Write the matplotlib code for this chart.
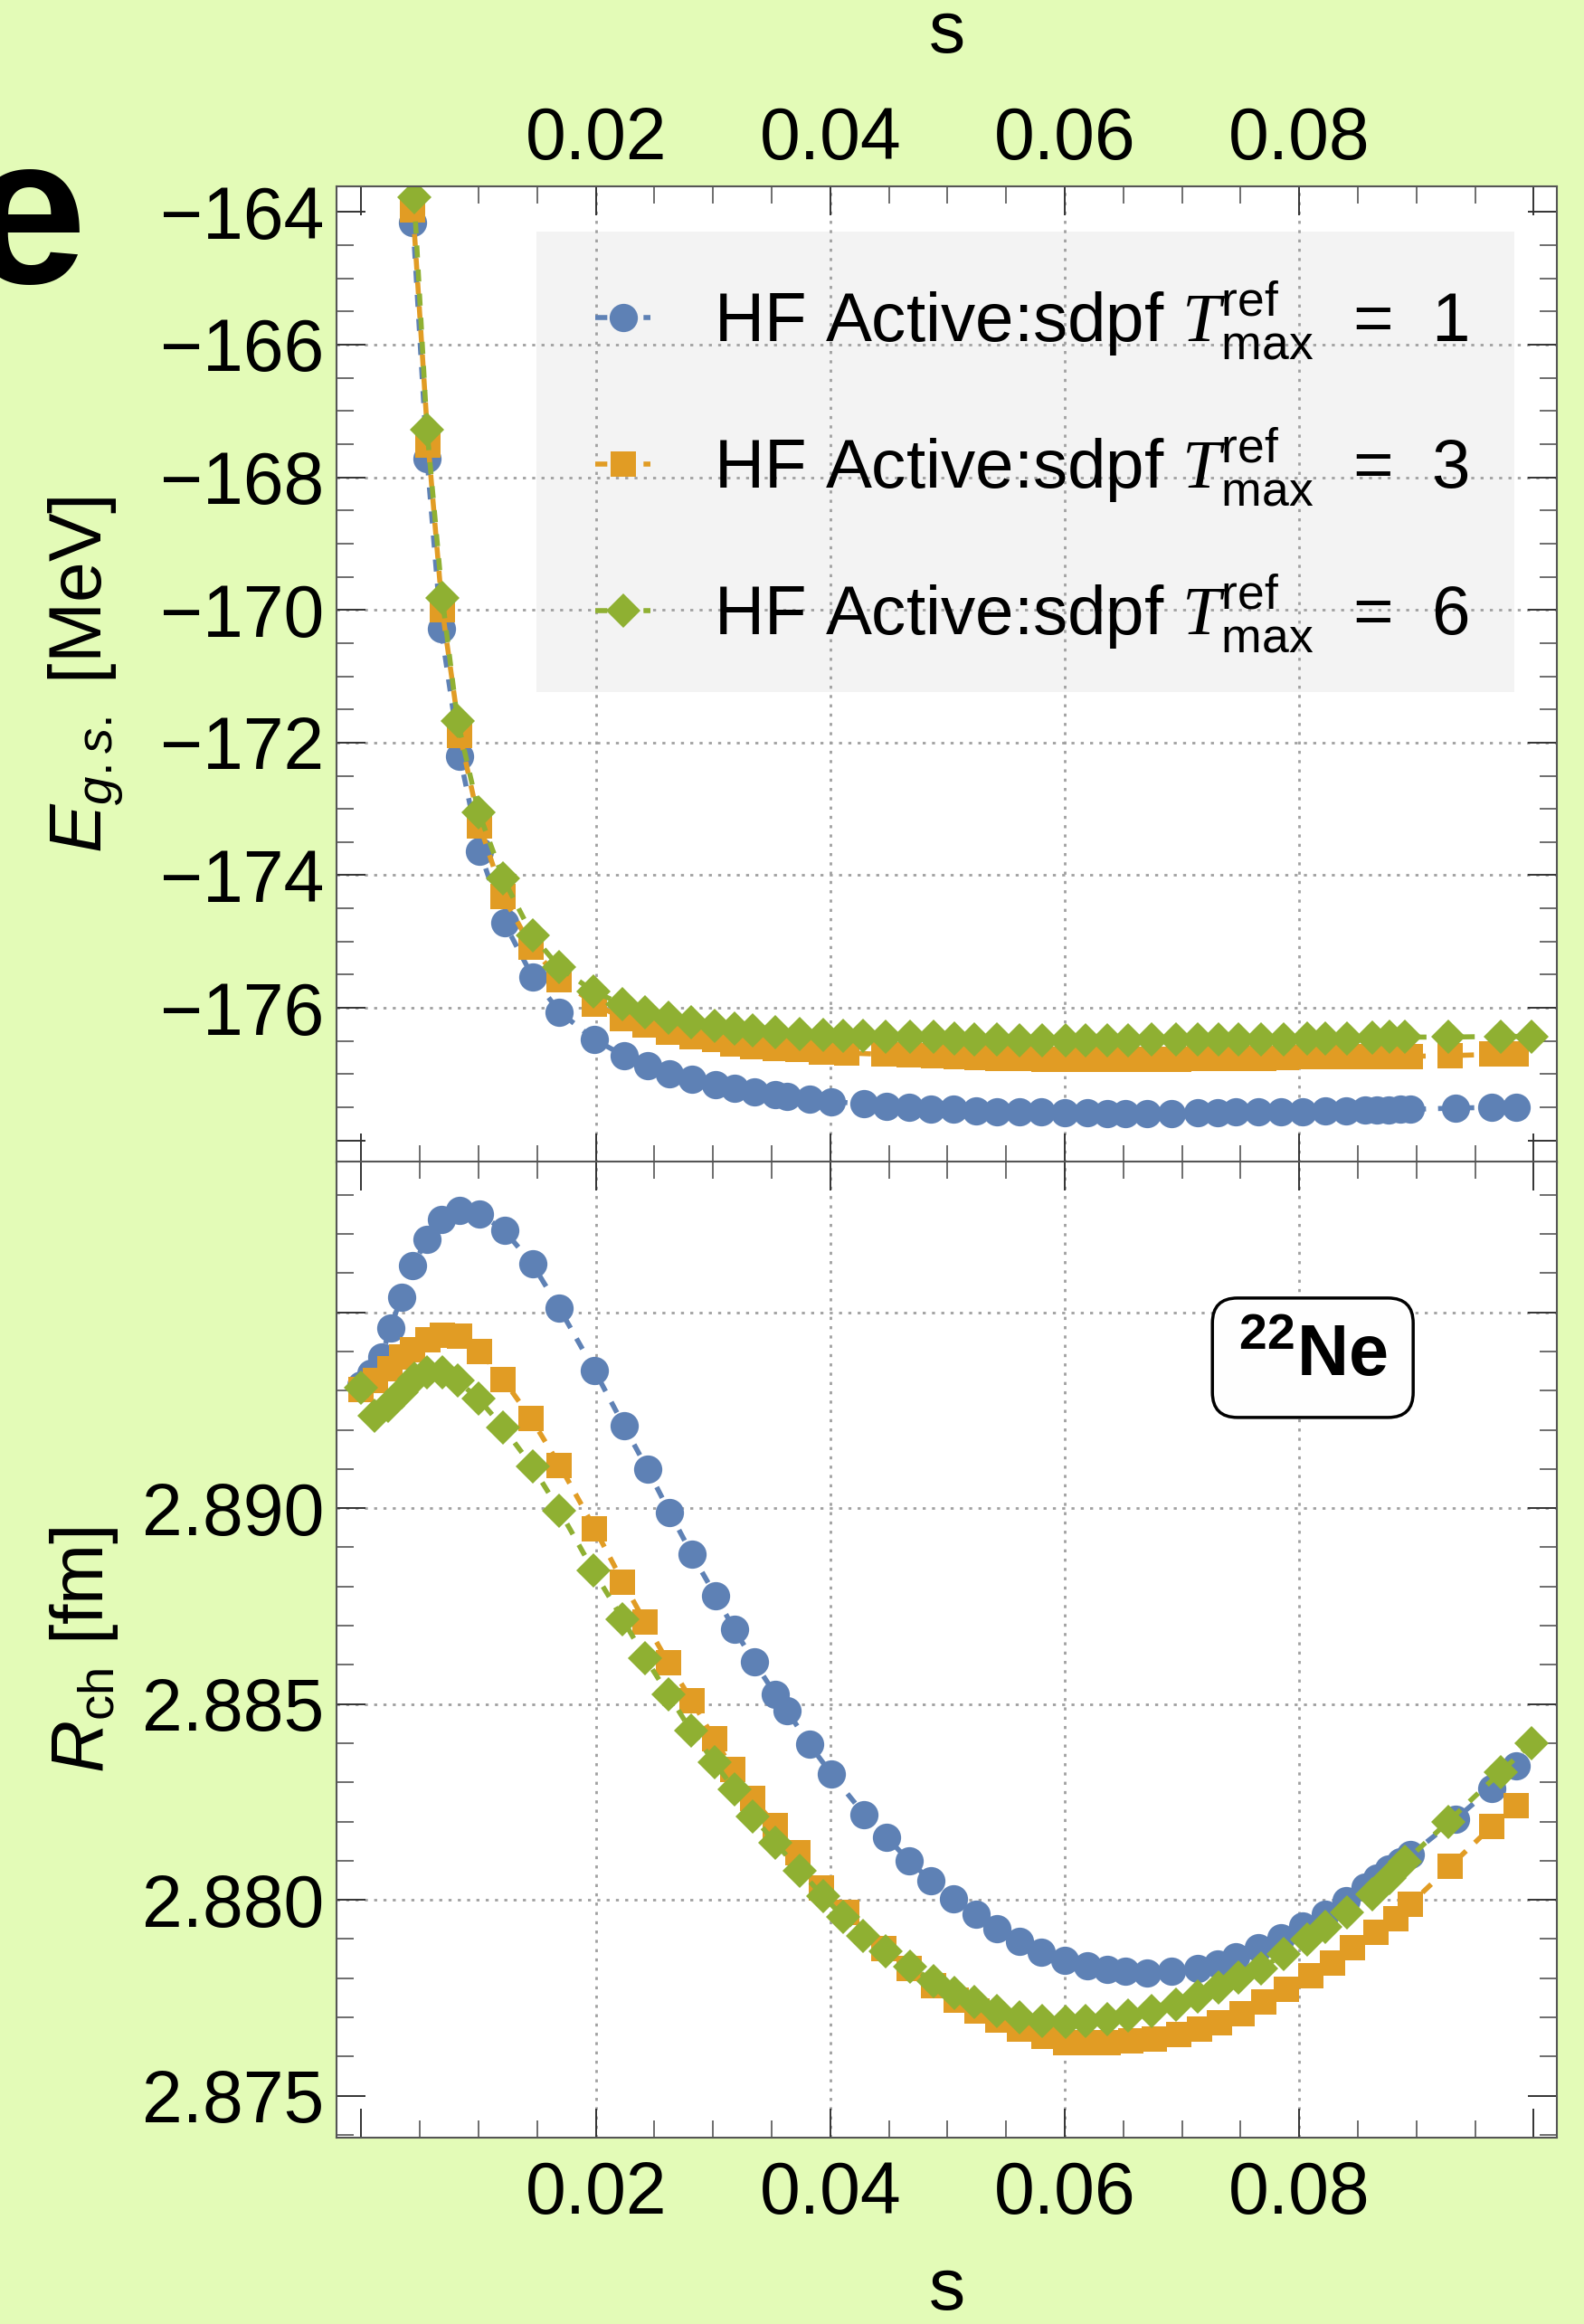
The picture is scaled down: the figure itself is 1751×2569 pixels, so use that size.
import numpy as np
import matplotlib
matplotlib.use("Agg")
import matplotlib.pyplot as plt
from matplotlib.patches import Rectangle
from matplotlib.ticker import FixedLocator, MultipleLocator, FuncFormatter

nan = np.nan

# ---------------- data ----------------
s_T1 = [0.0, 0.0008, 0.0017, 0.0025, 0.0034, 0.0044, 0.0056, 0.0068, 0.0084, 0.0101,
        0.0122, 0.0146, 0.0169, 0.0199, 0.0224, 0.0244, 0.0263, 0.0282, 0.0302, 0.0318,
        0.0335, 0.0353, 0.0363, 0.0382, 0.0401, 0.0429, 0.0448, 0.0467, 0.0486, 0.0505,
        0.0524, 0.0542, 0.0561, 0.0580, 0.0600, 0.0619, 0.0636, 0.0652, 0.0670, 0.0691,
        0.0713, 0.0730, 0.0746, 0.0765, 0.0784, 0.0803, 0.0822, 0.0840, 0.0856, 0.0866,
        0.0876, 0.0886, 0.0895, 0.0933, 0.0964, 0.0985]
E_T1 = [nan, nan, nan, nan, nan, -164.16, -167.72, -170.29, -172.21, -173.64,
        -174.72, -175.53, -176.06, -176.48, -176.72, -176.87, -176.99, -177.08, -177.16, -177.21,
        -177.26, -177.31, -177.34, -177.37, -177.41, -177.45, -177.48, -177.50, -177.52, -177.53,
        -177.55, -177.56, -177.57, -177.57, -177.58, -177.58, -177.59, -177.59, -177.59, -177.59,
        -177.58, -177.58, -177.57, -177.57, -177.56, -177.56, -177.55, -177.55, -177.54, -177.54,
        -177.54, -177.53, -177.53, -177.51, -177.50, -177.50]
R_T1 = [2.89315, 2.89345, 2.89387, 2.89461, 2.89539, 2.89619, 2.89687, 2.89737, 2.89760, 2.89751,
        2.89709, 2.89623, 2.89510, 2.89351, 2.89210, 2.89100, 2.88989, 2.88882, 2.88777, 2.88691,
        2.88608, 2.88525, 2.88483, 2.88398, 2.88321, 2.88218, 2.88160, 2.88100, 2.88049, 2.88003,
        2.87964, 2.87926, 2.87894, 2.87867, 2.87846, 2.87831, 2.87823, 2.87817, 2.87813, 2.87817,
        2.87825, 2.87837, 2.87855, 2.87877, 2.87904, 2.87934, 2.87964, 2.87998, 2.88033, 2.88055,
        2.88079, 2.88097, 2.88115, 2.88206, 2.88285, 2.88342]

s_T3 = [0.0, 0.0012, 0.0024, 0.0034, 0.0044, 0.0057, 0.0069, 0.0084, 0.0101, 0.0121,
        0.0145, 0.0169, 0.0199, 0.0223, 0.0242, 0.0262, 0.0282, 0.0301, 0.0317, 0.0334,
        0.0353, 0.0372, 0.0392, 0.0414, 0.0446, 0.0467, 0.0488, 0.0507, 0.0525, 0.0543,
        0.0561, 0.0582, 0.0601, 0.0619, 0.0637, 0.0656, 0.0676, 0.0697, 0.0715, 0.0732,
        0.0751, 0.0770, 0.0789, 0.0810, 0.0828, 0.0845, 0.0865, 0.0882, 0.0895, 0.0929,
        0.0964, 0.0985]
E_T3 = [nan, nan, nan, nan, -163.97, -167.51, -170.00, -171.89, -173.25, -174.32,
        -175.08, -175.57, -175.94, -176.16, -176.26, -176.36, -176.43, -176.48, -176.54, -176.58,
        -176.61, -176.63, -176.66, -176.68, -176.70, -176.71, -176.72, -176.74, -176.75, -176.76,
        -176.76, -176.77, -176.77, -176.77, -176.77, -176.77, -176.77, -176.77, -176.76, -176.76,
        -176.76, -176.76, -176.75, -176.74, -176.74, -176.73, -176.73, -176.73, -176.73, -176.72,
        -176.70, -176.70]
R_T3 = [2.89302, 2.89325, 2.89355, 2.89385, 2.89405, 2.89430, 2.89442, 2.89440, 2.89400, 2.89329,
        2.89228, 2.89110, 2.88948, 2.88812, 2.88709, 2.88605, 2.88508, 2.88411, 2.88333, 2.88259,
        2.88190, 2.88120, 2.88030, 2.87967, 2.87875, 2.87826, 2.87780, 2.87744, 2.87716, 2.87693,
        2.87670, 2.87652, 2.87636, 2.87635, 2.87635, 2.87641, 2.87645, 2.87657, 2.87669, 2.87687,
        2.87709, 2.87739, 2.87772, 2.87806, 2.87839, 2.87877, 2.87917, 2.87953, 2.87990, 2.88087,
        2.88187, 2.88241]

s_T6 = [0.0, 0.0011, 0.0023, 0.0034, 0.0045, 0.0056, 0.0069, 0.0082, 0.0100, 0.0121,
        0.0146, 0.0169, 0.0198, 0.0223, 0.0242, 0.0262, 0.0281, 0.0301, 0.0318, 0.0334,
        0.0353, 0.0374, 0.0394, 0.0411, 0.0428, 0.0447, 0.0468, 0.0488, 0.0506, 0.0523,
        0.0542, 0.0561, 0.0581, 0.0601, 0.0618, 0.0636, 0.0654, 0.0674, 0.0695, 0.0713,
        0.0731, 0.0748, 0.0767, 0.0787, 0.0807, 0.0822, 0.0841, 0.0862, 0.0877, 0.0890,
        0.0927, 0.0972, 0.0998]
E_T6 = [nan, nan, nan, nan, -163.78, -167.29, -169.82, -171.67, -173.05, -174.05,
        -174.91, -175.39, -175.75, -175.95, -176.07, -176.15, -176.21, -176.27, -176.31, -176.34,
        -176.37, -176.40, -176.41, -176.42, -176.42, -176.43, -176.43, -176.44, -176.46, -176.47,
        -176.48, -176.49, -176.49, -176.49, -176.49, -176.49, -176.49, -176.48, -176.48, -176.48,
        -176.48, -176.47, -176.47, -176.47, -176.46, -176.46, -176.46, -176.45, -176.44, -176.44,
        -176.44, -176.43, -176.43]
R_T6 = [2.89308, 2.89237, 2.89262, 2.89295, 2.89330, 2.89348, 2.89348, 2.89325, 2.89279, 2.89206,
        2.89106, 2.88994, 2.88840, 2.88716, 2.88618, 2.88524, 2.88433, 2.88352, 2.88282, 2.88213,
        2.88146, 2.88075, 2.88009, 2.87957, 2.87908, 2.87869, 2.87830, 2.87792, 2.87762, 2.87739,
        2.87716, 2.87700, 2.87692, 2.87688, 2.87690, 2.87696, 2.87704, 2.87716, 2.87732, 2.87753,
        2.87777, 2.87801, 2.87825, 2.87861, 2.87898, 2.87930, 2.87967, 2.88015, 2.88055, 2.88097,
        2.88200, 2.88327, 2.88400]

labels = [r"HF Active:sdpf $\mathcal{T}^{\mathrm{ref}}_{\mathrm{max}}$  =  1",
          r"HF Active:sdpf $\mathcal{T}^{\mathrm{ref}}_{\mathrm{max}}$  =  3",
          r"HF Active:sdpf $\mathcal{T}^{\mathrm{ref}}_{\mathrm{max}}$  =  6"]

x_major = [0.0, 0.02, 0.04, 0.06, 0.08, 0.10]
E_major = [-178, -176, -174, -172, -170, -168, -166, -164]
R_major = [2.875, 2.880, 2.885, 2.890, 2.895]
x_grid = [0.02, 0.04, 0.06, 0.08]
E_grid = [-176, -174, -172, -170, -168, -166]
R_grid = [2.880, 2.885, 2.890, 2.895]

# ---------------- style ----------------
plt.rcParams.update({
    "font.family": ["Liberation Sans", "DejaVu Sans"],
    "mathtext.fontset": "custom",
    "mathtext.rm": "Liberation Sans",
    "mathtext.it": "Liberation Sans:italic",
    "mathtext.bf": "Liberation Sans:bold",
    "mathtext.cal": "Liberation Serif:italic",
    "axes.unicode_minus": True,
})

BG = "#E3FBB7"
colors = ["#5E81B5", "#E19C24", "#8FB032"]
markers = ["o", "s", "D"]
msizes = [22.5, 19.8, 19.6]
FS = 58

W, H = 1751, 2569
fig = plt.figure(figsize=(W / 100, H / 100), dpi=100, facecolor=BG)

L, Rr = 372, 1721
ax1 = fig.add_axes([L / W, 1 - 1285 / H, (Rr - L) / W, (1285 - 206) / H])
ax2 = fig.add_axes([L / W, 1 - 2363 / H, (Rr - L) / W, (2363 - 1284) / H])

series = [(s_T1, E_T1, R_T1), (s_T3, E_T3, R_T3), (s_T6, E_T6, R_T6)]
for i, (s, E, R) in enumerate(series):
    kw = dict(color=colors[i], marker=markers[i], ms=msizes[i], mew=0,
              lw=4.0, ls=(0, (2.4, 2.4)), dash_capstyle="butt", zorder=3 + i)
    ax1.plot(s, E, label=labels[i], **kw)
    ax2.plot(s, R, **kw)

grid_kw = dict(color="#A0A0A0", lw=2.0, ls=(0, (1.2, 2.5)), zorder=1.5)
for ax, yg in ((ax1, E_grid), (ax2, R_grid)):
    for v in x_grid:
        ax.axvline(v, **grid_kw)
    for v in yg:
        ax.axhline(v, **grid_kw)

ax1.set_xlim(-0.00212, 0.10197)
ax2.set_xlim(-0.00212, 0.10197)
ax1.set_ylim(-178.33, -163.615)
ax2.set_ylim(2.87393, 2.89885)


def xfmt(v, p):
    return "" if (v < 0.01 or v > 0.09) else f"{v:.2f}"


def efmt(v, p):
    return "" if v < -177 else f"{v:.0f}".replace("-", "\u2212")


def rfmt(v, p):
    return "" if v > 2.8925 else f"{v:.3f}"


for ax in (ax1, ax2):
    ax.set_facecolor("white")
    ax.xaxis.set_major_locator(FixedLocator(x_major))
    ax.xaxis.set_minor_locator(MultipleLocator(0.005))
    ax.xaxis.set_major_formatter(FuncFormatter(xfmt))
    ax.tick_params(which="both", direction="in", top=True, right=True,
                   labelsize=FS, labelright=False)
    ax.tick_params(which="major", length=23, width=1.4, color="#333333")
    ax.tick_params(which="minor", length=13.5, width=1.2, color="#555555")
    ax.tick_params(axis="y", pad=10)
    for sp in ax.spines.values():
        sp.set_color("#555555")
        sp.set_linewidth(1.5)
        sp.set_zorder(10)

ax1.yaxis.set_major_locator(FixedLocator(E_major))
ax1.yaxis.set_minor_locator(MultipleLocator(0.5))
ax1.yaxis.set_major_formatter(FuncFormatter(efmt))
ax2.yaxis.set_major_locator(FixedLocator(R_major))
ax2.yaxis.set_minor_locator(MultipleLocator(0.001))
ax2.yaxis.set_major_formatter(FuncFormatter(rfmt))

ax1.tick_params(axis="x", labeltop=True, labelbottom=False, pad=9.5)
ax2.tick_params(axis="x", labeltop=False, labelbottom=True, pad=18)

# axis labels
ax1.set_xlabel("s", fontsize=FS)
ax1.xaxis.set_label_position("top")
ax1.xaxis.set_label_coords(0.5, (1285 - 58) / 1079)
ax1.xaxis.label.set_va("baseline")
ax2.set_xlabel("s", fontsize=FS)
ax2.xaxis.set_label_coords(0.5, (2363 - 2553) / 1079)
ax2.xaxis.label.set_va("baseline")

ax1.set_ylabel(r"$E_{g.s.}$ [MeV]", fontsize=FS)
ax1.yaxis.set_label_coords(-0.192, 0.5)
ax1.yaxis.label.set_va("baseline")
ax2.set_ylabel(r"$R_{\mathrm{ch}}$ [fm]", fontsize=FS)
ax2.yaxis.set_label_coords(-0.191, 0.5)
ax2.yaxis.label.set_va("baseline")

# legend background and legend
ax1.add_patch(Rectangle((0.1638, 0.4819), 0.8014, 0.4718, transform=ax1.transAxes,
                        facecolor="#F3F3F3", edgecolor="none", zorder=1))
leg = ax1.legend(loc="upper left", bbox_to_anchor=(0.212, 0.905), frameon=False,
                 fontsize=55, handlelength=0.8, handletextpad=0.92, labelspacing=0.92,
                 borderpad=0, borderaxespad=0, numpoints=1)
leg.set_zorder(8)

# nucleus label
ax2.text(0.80, 0.799, r"$^{\mathbf{22}}$Ne", transform=ax2.transAxes, ha="center",
         va="center", fontsize=57, fontweight="bold", zorder=9,
         bbox=dict(boxstyle="round,pad=0.36,rounding_size=0.35", fc="#FEFEFE",
                   ec="black", lw=2.5))

# panel letter (cut at the left edge as in the original figure)
fig.text(-34 / W, 1 - 313 / H, "e", fontsize=168, fontweight="bold",
         ha="left", va="baseline")

fig.savefig("out.png", dpi=100, facecolor=BG)
